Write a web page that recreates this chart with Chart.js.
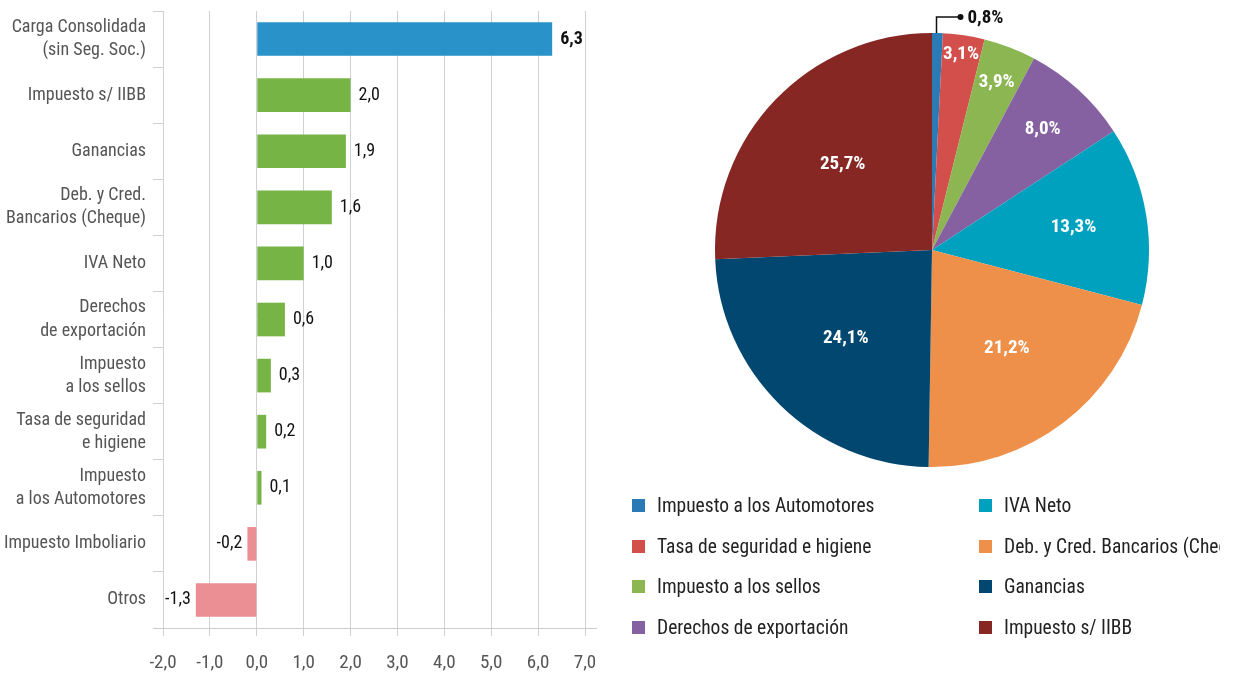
<!DOCTYPE html>
<html lang="es">
<head>
<meta charset="utf-8">
<script src="https://cdn.jsdelivr.net/npm/chart.js@4/dist/chart.umd.min.js"></script>
<style>
  body { margin:0; background:#fff; width:1234px; height:673px; overflow:hidden; position:relative;
         font-family:'Roboto Condensed','Liberation Sans Narrow',Roboto,sans-serif; }
  #barras { position:absolute; left:0; top:0; }
  #torta { position:absolute; left:610px; top:0; }
  #leyenda { position:absolute; left:632px; top:485px; width:588px; overflow:hidden;
             display:grid; grid-template-columns:347px 260px; grid-auto-flow:column;
             grid-template-rows:repeat(4, 40.7px); }
  .item { display:flex; align-items:center; white-space:nowrap; font-size:19.5px; color:#222; }
  .cuadro { width:13px; height:13px; margin-right:12px; flex:none; }
</style>
</head>
<body>
<canvas id="barras" width="607" height="673"></canvas>
<canvas id="torta" width="624" height="500"></canvas>
<div id="leyenda"></div>
<script>
// Barras: variación por impuesto
const categorias = [
  ['Carga Consolidada', '(sin Seg. Soc.)'],
  'Impuesto s/ IIBB',
  'Ganancias',
  ['Deb. y Cred.', 'Bancarios (Cheque)'],
  'IVA Neto',
  ['Derechos', 'de exportación'],
  ['Impuesto', 'a los sellos'],
  ['Tasa de seguridad', 'e higiene'],
  ['Impuesto', 'a los Automotores'],
  'Impuesto Imboliario',
  'Otros'
];
const valores = [6.3, 2.0, 1.9, 1.6, 1.0, 0.6, 0.3, 0.2, 0.1, -0.2, -1.3];
const ejeMin = -2;
const ejeMax = 7;

// Torta: participación
const sectores = [
  'Impuesto a los Automotores',
  'Tasa de seguridad e higiene',
  'Impuesto a los sellos',
  'Derechos de exportación',
  'IVA Neto',
  'Deb. y Cred. Bancarios (Cheque)',
  'Ganancias',
  'Impuesto s/ IIBB'
];
const participacion = [0.8, 3.1, 3.9, 8.0, 13.3, 21.2, 24.1, 25.7];
const coloresTorta = ['#2a7ab6', '#d24f4b', '#8bb652', '#8661a1', '#00a1be', '#ef904a', '#01476f', '#862724'];

const FUENTE = "'Roboto Condensed','Liberation Sans Narrow',Roboto,sans-serif";
Chart.defaults.font.family = FUENTE;
Chart.defaults.animation = false;

const coma = v => v.toFixed(1).replace('.', ',');

function colorBarra(v, i) {
  if (i === 0) return '#2892c9';
  return v >= 0 ? '#77b446' : '#eb8f95';
}

// etiquetas de valor al final de cada barra
const etiquetasBarras = {
  id: 'etiquetasBarras',
  afterDatasetsDraw(chart) {
    const ctx = chart.ctx;
    const meta = chart.getDatasetMeta(0);
    ctx.save();
    ctx.textBaseline = 'middle';
    ctx.fillStyle = '#111';
    meta.data.forEach((bar, i) => {
      const v = valores[i];
      ctx.font = (i === 0 ? 'bold ' : '') + '18px ' + FUENTE;
      if (v >= 0) {
        ctx.textAlign = 'left';
        ctx.fillText(coma(v), bar.x + 8, bar.y);
      } else {
        ctx.textAlign = 'right';
        ctx.fillText(coma(v), bar.x - 5, bar.y);
      }
    });
    // línea del eje inferior algo más larga
    const a = chart.chartArea;
    ctx.strokeStyle = '#cccccc';
    ctx.lineWidth = 1;
    ctx.beginPath();
    ctx.moveTo(a.left - 10, a.bottom + 0.5);
    ctx.lineTo(a.right + 12, a.bottom + 0.5);
    ctx.stroke();
    ctx.restore();
  }
};

new Chart(document.getElementById('barras'), {
  type: 'bar',
  data: {
    labels: categorias,
    datasets: [{
      data: valores,
      backgroundColor: valores.map(colorBarra),
      barPercentage: 0.6,
      categoryPercentage: 1
    }]
  },
  options: {
    responsive: false,
    indexAxis: 'y',
    layout: { padding: { top: 11, right: 22 } },
    plugins: { legend: { display: false }, tooltip: { enabled: false } },
    scales: {
      x: {
        min: ejeMin, max: ejeMax,
        ticks: { stepSize: 1, callback: v => coma(v), color: '#555', font: { size: 19 }, padding: 16 },
        grid: { color: '#cfcfd4', tickLength: 8 },
        border: { display: false },
        afterFit: s => { s.height = 45; s.paddingLeft = 0; s.paddingRight = 0; }
      },
      y: {
        ticks: { color: '#555', font: { size: 18, lineHeight: 1.28 }, padding: 7 },
        grid: { offset: true, drawOnChartArea: false, tickLength: 10, color: '#cfcfd4' },
        border: { display: false },
        afterFit: s => { s.width = 163; s.paddingTop = 0; s.paddingBottom = 0; }
      }
    }
  },
  plugins: [etiquetasBarras]
});

// etiquetas de porcentaje dentro de la torta
const etiquetasTorta = {
  id: 'etiquetasTorta',
  afterDatasetsDraw(chart) {
    const ctx = chart.ctx;
    const meta = chart.getDatasetMeta(0);
    ctx.save();
    ctx.font = 'bold 19px ' + FUENTE;
    ctx.textBaseline = 'middle';
    meta.data.forEach((arc, i) => {
      const p = participacion[i];
      const ang = (arc.startAngle + arc.endAngle) / 2;
      const r = arc.outerRadius;
      if (i === 0) {
        // porcentaje chico: afuera con línea guía
        const x0 = Math.round(arc.x + r * Math.cos(ang)) - 0.5;
        const y0 = arc.y + r * Math.sin(ang);
        const yl = y0 - 16;
        const x1 = x0 + 24;
        ctx.strokeStyle = '#111';
        ctx.lineWidth = 1.5;
        ctx.beginPath();
        ctx.moveTo(x0, y0);
        ctx.lineTo(x0, yl);
        ctx.lineTo(x1, yl);
        ctx.stroke();
        ctx.fillStyle = '#111';
        ctx.beginPath();
        ctx.arc(x1, yl, 3, 0, Math.PI * 2);
        ctx.fill();
        ctx.textAlign = 'left';
        ctx.fillText(coma(p) + '%', x1 + 7, yl + 1);
        return;
      }
      // sectores angostos: etiqueta cerca del borde
      const f = p < 3.5 ? 0.91 : Math.max(0.57, 0.9 - 0.018 * p);
      ctx.fillStyle = '#fff';
      ctx.textAlign = 'center';
      ctx.fillText(coma(p) + '%', arc.x + r * f * Math.cos(ang), arc.y + r * f * Math.sin(ang));
    });
    ctx.restore();
  }
};

new Chart(document.getElementById('torta'), {
  type: 'pie',
  data: {
    labels: sectores,
    datasets: [{ data: participacion, backgroundColor: coloresTorta, borderWidth: 0 }]
  },
  options: {
    responsive: false,
    layout: { padding: { left: 20, top: 33, bottom: 33 } },
    plugins: { legend: { display: false }, tooltip: { enabled: false } }
  },
  plugins: [etiquetasTorta]
});

// leyenda en dos columnas
const leyenda = document.getElementById('leyenda');
sectores.forEach((s, i) => {
  const d = document.createElement('div');
  d.className = 'item';
  d.innerHTML = '<span class="cuadro" style="background:' + coloresTorta[i] + '"></span>' + s;
  leyenda.appendChild(d);
});
</script>
</body>
</html>
